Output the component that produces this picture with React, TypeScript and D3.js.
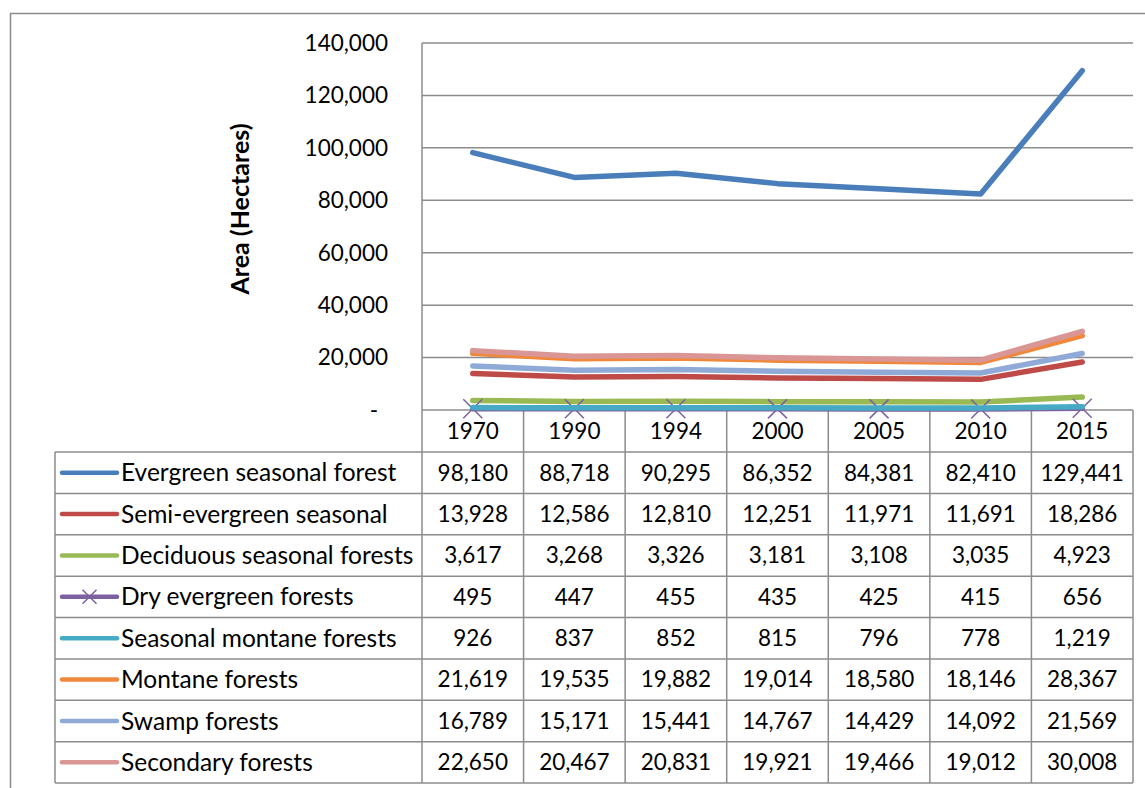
import React from "react";
import * as d3 from "d3";

const years = ["1970", "1990", "1994", "2000", "2005", "2010", "2015"];
const seriesNames = [
  "Evergreen seasonal forest",
  "Semi-evergreen seasonal",
  "Deciduous seasonal forests",
  "Dry evergreen forests",
  "Seasonal montane forests",
  "Montane forests",
  "Swamp forests",
  "Secondary forests",
];
const evergreen = [98180, 88718, 90295, 86352, 84381, 82410, 129441];
const semiEvergreen = [13928, 12586, 12810, 12251, 11971, 11691, 18286];
const deciduous = [3617, 3268, 3326, 3181, 3108, 3035, 4923];
const dryEvergreen = [495, 447, 455, 435, 425, 415, 656];
const seasonalMontane = [926, 837, 852, 815, 796, 778, 1219];
const montane = [21619, 19535, 19882, 19014, 18580, 18146, 28367];
const swamp = [16789, 15171, 15441, 14767, 14429, 14092, 21569];
const secondary = [22650, 20467, 20831, 19921, 19466, 19012, 30008];
const seriesValues = [evergreen, semiEvergreen, deciduous, dryEvergreen, seasonalMontane, montane, swamp, secondary];
const colors = ["#4A7EBB", "#BE4B48", "#98B954", "#7D60A0", "#46AAC5", "#F0883C", "#8FAAD6", "#D99694"];
const yTicks = [0, 20000, 40000, 60000, 80000, 100000, 120000, 140000];

const FONT = "Lato, 'Open Sans', sans-serif";
const GRID = "#8c8c8c";
const NUM = 22.5;
const TXT = 24.5;

export default function App() {
  const left = 422, right = 1133, top = 43, bottom = 410;
  const tableLeft = 55;
  const x = d3.scaleBand<string>().domain(years).range([left, right]);
  const y = d3.scaleLinear().domain([0, 140000]).range([bottom, top]);
  const rows = d3.scaleBand<string>().domain(seriesNames).range([452, 783]);
  const fmt = d3.format(",");
  const line = (vals: number[]) =>
    d3.line<number>().x((_, i) => (x(years[i]) as number) + x.bandwidth() / 2).y((v) => y(v))(vals) as string;
  const cx = (yr: string) => (x(yr) as number) + x.bandwidth() / 2;

  const xMark = (px: number, py: number, s: number, color: string, key: string) => (
    <path key={key} d={`M${px - s},${py - s}L${px + s},${py + s}M${px - s},${py + s}L${px + s},${py - s}`} stroke={color} strokeWidth={1.5} fill="none" />
  );

  return (
    <svg width={1145} height={788} style={{ position: "absolute", left: 0, top: 0, background: "#fff" }} fontFamily={FONT}>
      <rect x={10.5} y={13.5} width={1300} height={900} fill="#fff" stroke={GRID} strokeWidth={1.5} />
      {yTicks.map((t) => (
        <line key={t} x1={left} x2={right} y1={y(t)} y2={y(t)} stroke={GRID} strokeWidth={1.5} />
      ))}
      {yTicks.map((t) => (
        <text key={"l" + t} x={t === 0 ? 378 : 388} y={y(t)} dy="0.35em" textAnchor="end" fontSize={NUM} fill="#000">
          {t === 0 ? "-" : fmt(t)}
        </text>
      ))}
      <text transform="translate(240,209) rotate(-90)" textAnchor="middle" fontSize={25} fontWeight="bold" dy="0.35em">
        Area (Hectares)
      </text>
      <line x1={left} x2={left} y1={top} y2={783} stroke={GRID} strokeWidth={1.5} />
      {years.map((yr) => (
        <line key={"v" + yr} x1={(x(yr) as number) + x.bandwidth()} x2={(x(yr) as number) + x.bandwidth()} y1={bottom} y2={783} stroke={GRID} strokeWidth={1.5} />
      ))}
      <line x1={tableLeft} x2={tableLeft} y1={452} y2={783} stroke={GRID} strokeWidth={1.5} />
      {seriesNames.map((n) => (
        <line key={"h" + n} x1={tableLeft} x2={right} y1={rows(n) as number} y2={rows(n) as number} stroke={GRID} strokeWidth={1.5} />
      ))}
      <line x1={tableLeft} x2={right} y1={783} y2={783} stroke={GRID} strokeWidth={1.5} />
      {years.map((yr) => (
        <text key={"y" + yr} x={cx(yr)} y={431} dy="0.35em" textAnchor="middle" fontSize={NUM}>
          {yr}
        </text>
      ))}
      {seriesNames.map((n, si) => {
        const ry = (rows(n) as number) + rows.bandwidth() / 2;
        return (
          <g key={"r" + n}>
            <line x1={62} x2={117} y1={ry} y2={ry} stroke={colors[si]} strokeWidth={4.5} strokeLinecap="round" />
            {si === 3 && xMark(89.5, ry, 7, colors[si], "lm")}
            <text x={121} y={ry} dy="0.35em" fontSize={TXT}>
              {n}
            </text>
            {seriesValues[si].map((v, i) => (
              <text key={i} x={cx(years[i])} y={ry} dy="0.35em" textAnchor="middle" fontSize={NUM}>
                {fmt(v)}
              </text>
            ))}
          </g>
        );
      })}
      {seriesValues.map((vals, si) => (
        <g key={"s" + si}>
          <path d={line(vals)} fill="none" stroke={colors[si]} strokeWidth={5.5} strokeLinejoin="round" strokeLinecap="round" />
          {si === 3 && vals.map((v, i) => xMark(cx(years[i]), y(v), 9.5, colors[si], "m" + i))}
        </g>
      ))}
    </svg>
  );
}
